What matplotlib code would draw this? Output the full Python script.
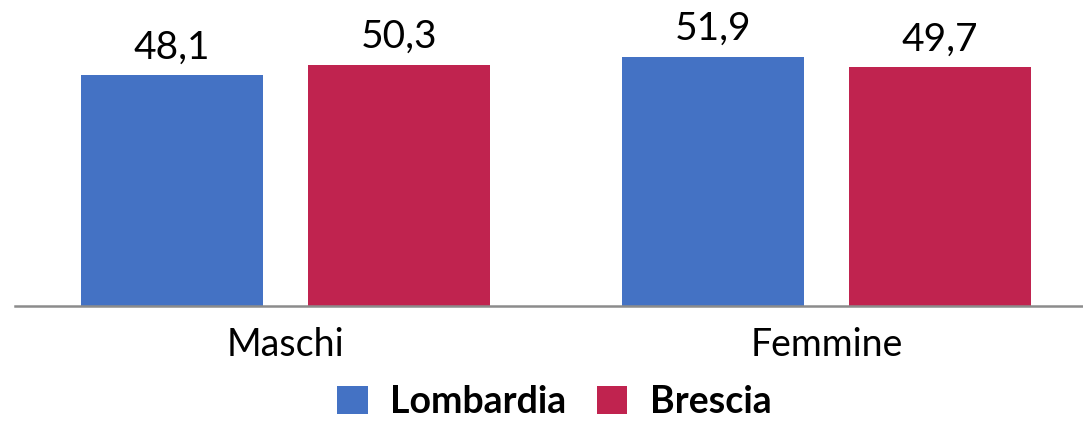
import matplotlib
matplotlib.use("Agg")
import matplotlib.pyplot as plt
import numpy as np
from matplotlib.patches import Patch

categories = ["Maschi", "Femmine"]
series_names = ["Lombardia", "Brescia"]
lombardia = [48.1, 51.9]
brescia = [50.3, 49.7]
colors = ["#4472C4", "#C0234F"]

plt.rcParams['font.family'] = ['Lato', 'DejaVu Sans']

W, H = 1083, 422
fig = plt.figure(figsize=(W / 100, H / 100), dpi=100)
ax = fig.add_axes([15 / W, (H - 306) / H, 1082 / W, 288 / H])

x = np.arange(len(categories))
bw = 0.336
off = 0.21
for vals, sign, col in [(lombardia, -1, colors[0]), (brescia, 1, colors[1])]:
    bars = ax.bar(x + sign * off, vals, width=bw, color=col, zorder=2)
    for b, v in zip(bars, vals):
        ax.annotate(f"{v:.1f}".replace(".", ","),
                    (b.get_x() + b.get_width() / 2, b.get_height()),
                    xytext=(0, 7), textcoords="offset points",
                    ha="center", va="bottom", fontsize=28, color="#000000")

ax.set_xlim(-0.5, 1.5)
ax.set_ylim(0, 60)
ax.set_xticks(x)
ax.set_xticklabels(categories, fontsize=27)
ax.tick_params(axis='x', length=0, pad=15)
ax.set_yticks([])
for s in ["top", "right", "left"]:
    ax.spines[s].set_visible(False)
ax.spines["bottom"].set_color("#8C8C8C")
ax.spines["bottom"].set_linewidth(1.8)
ax.spines["bottom"].set_zorder(3)

handles = [Patch(facecolor=c, label=n) for c, n in zip(colors, series_names)]
fig.legend(handles=handles, loc="center", bbox_to_anchor=(0.512, 0.047),
           ncol=2, frameon=False, prop={"weight": "bold", "size": 27},
           handlelength=0.82, handleheight=0.78, handletextpad=0.6,
           columnspacing=0.8, borderpad=0)

fig.savefig("out.png", dpi=100)
